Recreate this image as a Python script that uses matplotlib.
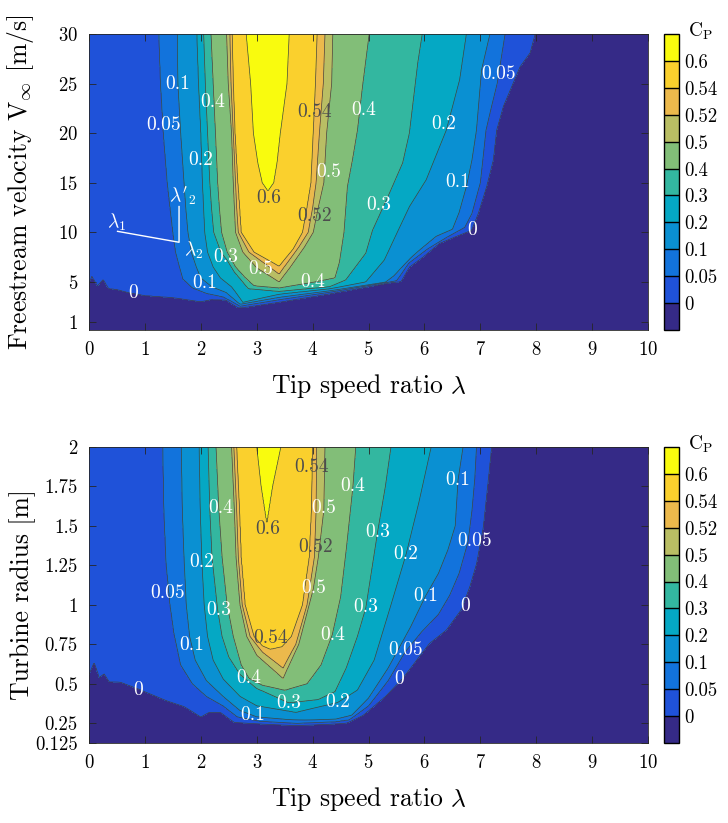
import numpy as np
import matplotlib
matplotlib.use('Agg')
import matplotlib.pyplot as plt

plt.rcParams['font.family'] = 'serif'
plt.rcParams['font.serif'] = ['cmr10']
plt.rcParams['mathtext.fontset'] = 'cm'
plt.rcParams['axes.unicode_minus'] = False
plt.rcParams['axes.formatter.use_mathtext'] = True

# C_P contour levels and band colours (parula-like)
LEVELS = [0, 0.05, 0.1, 0.2, 0.3, 0.4, 0.5, 0.52, 0.54, 0.6]
BOUNDS = [-0.2] + LEVELS + [0.7]
BAND_COLORS = ['#352a87', '#1f52d9', '#1273dc', '#0a90d2', '#05a8c4', '#33b7a0',
               '#82be78', '#b9be64', '#ecb94c', '#fad02d', '#f9fb0e']

# ---- top panel: C_P contours over tip speed ratio and freestream velocity
# one polyline per level (same order as LEVELS)
speed_lam = [
    [0, 0.05, 0.15, 0.25, 0.35, 0.5, 0.7, 1.0, 1.5, 2.0, 2.2, 2.45, 2.68, 3.4, 4.29, 5.37,
     5.58, 5.73, 5.97, 6.27, 6.57, 6.84, 6.96, 7.11, 7.23, 7.29, 7.41, 7.56, 7.71, 7.89, 7.98],
    [1.25, 1.28, 1.33, 1.40, 1.45, 1.50, 1.55, 1.62, 1.68, 1.85, 2.1, 2.4, 2.7, 3.4, 4.3, 5.3,
     5.5, 5.55, 5.72, 6.05, 6.4, 6.72, 6.85, 7.0, 7.1, 7.2, 7.3, 7.44],
    [1.58, 1.59, 1.64, 1.70, 1.73, 1.77, 1.83, 1.92, 2.0, 2.2, 2.45, 2.7, 3.4, 4.3, 5.3,
     5.45, 5.75, 5.91, 6.21, 6.5, 6.62, 6.75, 6.85, 6.93, 7.02, 7.17],
    [1.93, 1.96, 2.0, 2.03, 2.05, 2.07, 2.12, 2.22, 2.35, 2.55, 2.75, 3.4, 4.3, 4.95, 5.28,
     5.52, 5.73, 6.03, 6.39, 6.63, 6.75],
    [2.05, 2.08, 2.12, 2.16, 2.19, 2.23, 2.36, 2.47, 2.6, 2.72, 2.85, 3.4, 4.3, 4.59, 4.95,
     5.07, 5.37, 5.61, 5.73, 5.88, 5.96],
    [2.18, 2.22, 2.26, 2.3, 2.33, 2.37, 2.47, 2.62, 2.78, 2.95, 3.4, 4.0, 4.4, 4.48, 4.56,
     4.62, 4.71, 4.80, 4.89, 5.01],
    [2.46, 2.49, 2.55, 2.58, 2.6, 2.62, 2.75, 3.0, 3.4, 3.6, 3.85, 4.01, 4.1, 4.2, 4.25,
     4.34, 4.36],
    [2.52, 2.54, 2.58, 2.62, 2.64, 2.67, 2.86, 3.4, 3.75, 3.92, 4.0, 4.06, 4.12, 4.19, 4.22],
    [2.56, 2.58, 2.61, 2.66, 2.69, 2.72, 2.95, 3.4, 3.65, 3.82, 3.9, 3.97, 4.01, 4.05, 4.08],
    [2.81, 2.89, 2.94, 3.02, 3.1, 3.2, 3.3, 3.36, 3.42, 3.54, 3.58],
]
speed_v = [
    [4.9, 5.5, 4.6, 5.2, 4.3, 4.2, 3.9, 3.6, 3.4, 3.0, 3.2, 3.15, 2.35, 2.96, 3.79, 4.9,
     5.05, 6.5, 7.5, 8.9, 9.6, 10.2, 11.9, 14.6, 17.3, 20.3, 22.7, 24.7, 26.7, 28.1, 30],
    [30, 25, 20, 15, 12.5, 10, 8, 6.5, 5.3, 4.4, 3.85, 3.5, 2.55, 3.2, 3.95, 4.92,
     5.12, 5.5, 6.9, 8.3, 9.5, 10.5, 11.9, 15, 20.3, 22.7, 25, 30],
    [30, 25, 20, 15, 12.5, 10, 8, 6.5, 5.4, 4.5, 3.95, 2.75, 3.45, 4.1, 4.97,
     5.6, 7.4, 8.2, 9.6, 10.3, 12, 14.6, 17.3, 20.3, 26.4, 30],
    [30, 25, 20, 15, 12.5, 10, 8, 6.5, 5.4, 4.5, 2.95, 3.75, 4.3, 5.0, 7.2,
     10.1, 12.6, 15.3, 20.3, 25.4, 30],
    [30, 25, 20, 15, 12.5, 10, 8, 7.2, 6.0, 5.2, 4.3, 4.05, 4.5, 5.2, 7.9,
     10.2, 13.9, 17, 20, 27.1, 30],
    [30, 25, 20, 15, 12.5, 10, 8, 6.5, 5.5, 4.6, 4.4, 4.95, 5.4, 7.0, 10,
     14.6, 17.3, 20.3, 24.7, 30],
    [30, 25, 20, 15, 12.5, 10, 8, 6.4, 5.0, 6.5, 8.5, 10, 12.5, 15, 20, 25, 30],
    [30, 25, 20, 15, 12.5, 10, 8, 5.8, 8.5, 10, 12.5, 15, 20, 25, 30],
    [30, 25, 20, 15, 12.5, 10, 8, 6.6, 8.3, 10, 12.5, 15, 20, 25, 30],
    [30, 25, 20, 17, 15, 14.2, 15, 17, 20, 25, 30],
]
speed_label_lam = [1.58, 2.22, 1.34, 2.0, 3.22, 4.03, 4.04, 4.29, 4.92, 5.18, 6.35, 6.6,
                   7.32, 6.85, 0.79, 2.07, 2.45, 3.07, 4.0]
speed_label_v = [25.0, 23.1, 20.8, 17.3, 13.5, 22.1, 11.6, 16.1, 22.3, 12.8, 20.9, 15.1,
                 26.0, 10.2, 3.9, 4.9, 7.55, 6.3, 5.0]
speed_label_cp = [0.1, 0.4, 0.05, 0.2, 0.6, 0.54, 0.52, 0.5, 0.4, 0.3, 0.2, 0.1,
                  0.05, 0, 0, 0.1, 0.3, 0.5, 0.4]

# operating-point marker lines (lambda_1 -> lambda_2 -> lambda'_2)
marker_lam = [0.51, 1.61, 1.61]
marker_v = [10.1, 9.0, 12.6]

# ---- bottom panel: C_P contours over tip speed ratio and turbine radius
radius_lam = [
    [0, 0.09, 0.18, 0.27, 0.36, 0.55, 0.85, 1.4, 1.7, 2.0, 2.16, 2.34, 2.6, 3.05, 3.7, 4.4,
     4.6, 4.9, 5.3, 5.6, 6.09, 6.39, 6.66, 6.81, 6.93, 7.05, 7.14, 7.2],
    [1.32, 1.34, 1.38, 1.45, 1.52, 1.64, 1.85, 2.1, 2.4, 2.65, 3.05, 3.7, 4.4, 4.65, 5.0,
     5.35, 5.65, 5.95, 6.25, 6.45, 6.62, 6.78, 6.85, 6.9, 6.93],
    [1.65, 1.67, 1.7, 1.74, 1.8, 1.9, 2.1, 2.4, 2.7, 3.0, 3.7, 4.4, 4.7, 5.0, 5.35, 5.75,
     6.02, 6.25, 6.42, 6.55, 6.6, 6.69],
    [1.97, 1.99, 2.02, 2.06, 2.12, 2.22, 2.4, 2.7, 3.0, 3.7, 4.44, 4.8, 5.1, 5.4, 5.67, 5.9, 6.12],
    [2.13, 2.16, 2.2, 2.3, 2.38, 2.5, 2.7, 3.0, 3.57, 4.1, 4.4, 4.6, 4.8, 4.95, 5.16, 5.3, 5.4],
    [2.27, 2.32, 2.38, 2.47, 2.58, 2.72, 2.86, 3.1, 3.5, 3.9, 4.15, 4.35, 4.5, 4.6, 4.72, 4.77],
    [2.55, 2.6, 2.63, 2.7, 2.82, 3.0, 3.47, 3.75, 4.01, 4.1, 4.2, 4.22],
    [2.59, 2.64, 2.67, 2.74, 2.88, 3.1, 3.47, 3.7, 3.9, 4.03, 4.06, 4.07],
    [2.64, 2.69, 2.72, 2.79, 2.95, 3.1, 3.24, 3.45, 3.62, 3.82, 3.94, 3.98, 4.0],
    [3.0, 3.08, 3.18, 3.28, 3.43],
]
radius_r = [
    [0.56, 0.63, 0.54, 0.56, 0.51, 0.51, 0.47, 0.39, 0.355, 0.29, 0.32, 0.32, 0.255, 0.245,
     0.235, 0.245, 0.25, 0.3, 0.42, 0.53, 0.756, 0.84, 0.97, 1.115, 1.26, 1.49, 1.79, 2.0],
    [2.0, 1.6, 1.26, 1.0, 0.82, 0.62, 0.5, 0.42, 0.36, 0.29, 0.262, 0.25, 0.258, 0.27, 0.36,
     0.52, 0.7, 0.83, 0.94, 1.06, 1.2, 1.4, 1.6, 1.8, 2.0],
    [2.0, 1.6, 1.3, 1.0, 0.8, 0.65, 0.52, 0.42, 0.33, 0.29, 0.27, 0.275, 0.3, 0.41, 0.6, 0.86,
     1.057, 1.2, 1.35, 1.5, 1.79, 2.0],
    [2.0, 1.6, 1.27, 1.0, 0.8, 0.65, 0.53, 0.42, 0.36, 0.32, 0.38, 0.46, 0.65, 1.0, 1.32, 1.65, 2.0],
    [2.0, 1.6, 1.3, 0.97, 0.8, 0.67, 0.56, 0.47, 0.38, 0.4, 0.45, 0.6, 0.8, 0.98, 1.46, 1.75, 2.0],
    [2.0, 1.61, 1.3, 1.0, 0.8, 0.62, 0.534, 0.49, 0.46, 0.5, 0.62, 0.81, 1.05, 1.35, 1.75, 2.0],
    [2.0, 1.6, 1.3, 1.0, 0.8, 0.68, 0.534, 0.75, 1.1, 1.3, 1.6, 2.0],
    [2.0, 1.6, 1.3, 1.0, 0.8, 0.7, 0.6, 0.75, 1.0, 1.3, 1.6, 2.0],
    [2.0, 1.6, 1.3, 1.0, 0.8, 0.74, 0.72, 0.735, 0.8, 1.0, 1.3, 1.6, 2.0],
    [2.0, 1.75, 1.526, 1.75, 2.0],
]
radius_label_lam = [3.98, 2.36, 3.19, 4.2, 4.72, 4.05, 5.16, 2.02, 1.41, 2.32, 4.01, 3.24,
                    1.83, 4.35, 2.86, 0.88, 3.57, 4.44, 2.92, 6.6, 6.9, 4.95, 5.67, 6.02,
                    6.72, 5.66, 5.55]
radius_label_r = [1.874, 1.615, 1.48, 1.615, 1.754, 1.368, 1.459, 1.273, 1.072, 0.967, 1.104,
                  0.787, 0.745, 0.808, 0.534, 0.46, 0.376, 0.382, 0.302, 1.79, 1.406, 0.984,
                  1.321, 1.057, 0.994, 0.714, 0.53]
radius_label_cp = [0.54, 0.4, 0.6, 0.5, 0.4, 0.52, 0.3, 0.2, 0.05, 0.3, 0.5, 0.54,
                   0.1, 0.4, 0.4, 0, 0.3, 0.2, 0.1, 0.1, 0.05, 0.3,
                   0.2, 0.1, 0, 0.05, 0]


def cp_field(lam, ys, lines_x, lines_y):
    """Rebuild a C_P grid whose level sets follow the given contour polylines."""
    mids = [(a + b) / 2 for a, b in zip(BOUNDS[:-1], BOUNDS[1:])]
    z = np.empty((len(ys), len(lam)))
    for i, y in enumerate(ys):
        hits = []
        state = []
        for k, (lx, ly) in enumerate(zip(lines_x, lines_y)):
            # a line starting on the left edge encloses the edge above its start
            state.append(lx[0] == 0 and y > ly[0])
            for j in range(len(lx) - 1):
                y0, y1 = ly[j], ly[j + 1]
                if min(y0, y1) <= y < max(y0, y1):
                    t = (y - y0) / (y1 - y0)
                    hits.append((lx[j] + t * (lx[j + 1] - lx[j]), k))
        hits.sort()
        kx, kz = [0.0], [mids[sum(state)]]
        prev = 0.0
        for x, k in hits:
            if x - prev > 1e-9:
                kx.append((prev + x) / 2)
                kz.append(mids[sum(state)])
            kx.append(x)
            kz.append(LEVELS[k])
            state[k] = not state[k]
            prev = x
        kx += [(prev + 10) / 2, 10.0]
        kz += [mids[sum(state)], mids[sum(state)]]
        z[i] = np.interp(lam, kx, kz)
    return z


def fmt(v):
    return '%g' % v


def draw_panel(ax, cax, lines_x, lines_y, y_lo, y_hi, lab_x, lab_y, lab_cp):
    lam = np.linspace(0, 10, 1001)
    ys = np.linspace(y_lo, y_hi - 1e-4 * (y_hi - y_lo), 520)
    z = cp_field(lam, ys, lines_x, lines_y)
    cf = ax.contourf(lam, ys, z, levels=BOUNDS, colors=BAND_COLORS)
    ax.contour(lam, ys, z, levels=LEVELS, colors='0.25', linewidths=0.5)
    for x, y, c in zip(lab_x, lab_y, lab_cp):
        col = '0.3' if c >= 0.52 else 'white'
        ax.text(x, y, fmt(c), color=col, fontsize=14, ha='center', va='center')
    ax.set_xlim(0, 10)
    ax.set_ylim(y_lo, y_hi)
    ax.set_xticks(range(11))
    ax.set_xlabel(r'Tip speed ratio $\lambda$', fontsize=18.5, labelpad=9)
    ax.tick_params(direction='in', top=True, right=True, length=5, width=0.6,
                   color='0.15', labelsize=13.5, pad=8)
    for s in ax.spines.values():
        s.set_linewidth(0.6)
        s.set_color('0.15')

    cb = plt.colorbar(cf, cax=cax, ticks=LEVELS, drawedges=True)
    cb.ax.set_yticklabels([fmt(v) for v in LEVELS])
    cb.ax.tick_params(length=0, labelsize=13.5, pad=4)
    cb.outline.set_linewidth(1.0)
    cb.dividers.set_linewidth(1.0)
    cax.text(1.6, 1.01, r'$\mathrm{C_P}$', transform=cax.transAxes,
             ha='left', va='center', fontsize=14)
    return cf


fig = plt.figure(figsize=(7.28, 8.23), dpi=100)
ax1 = fig.add_axes([0.1223, 0.599, 0.768, 0.3597])
cax1 = fig.add_axes([0.912, 0.599, 0.0206, 0.3597])
ax2 = fig.add_axes([0.1223, 0.0972, 0.768, 0.3597])
cax2 = fig.add_axes([0.912, 0.0972, 0.0206, 0.3597])

draw_panel(ax1, cax1, speed_lam, speed_v, 0.15, 30,
           speed_label_lam, speed_label_v, speed_label_cp)
ax1.set_yticks([1, 5, 10, 15, 20, 25, 30])
ax1.set_ylabel(r'Freestream velocity $\mathrm{V}_\infty$ [m/s]', fontsize=18.5)
ax1.yaxis.set_label_coords(-0.094, 0.5)
ax1.plot(marker_lam, marker_v, color='white', lw=1.0)
ax1.text(0.5, 11.0, r'$\lambda_1$', color='white', fontsize=14, ha='center', va='center')
ax1.text(1.68, 13.6, r"$\lambda'_2$", color='white', fontsize=14, ha='center', va='center')
ax1.text(1.87, 8.2, r'$\lambda_2$', color='white', fontsize=14, ha='center', va='center')

draw_panel(ax2, cax2, radius_lam, radius_r, 0.125, 2,
           radius_label_lam, radius_label_r, radius_label_cp)
r_ticks = [0.125, 0.25, 0.5, 0.75, 1, 1.25, 1.5, 1.75, 2]
ax2.set_yticks(r_ticks)
ax2.set_yticklabels([fmt(v) for v in r_ticks])
ax2.set_ylabel('Turbine radius [m]', fontsize=18.5)
ax2.yaxis.set_label_coords(-0.094, 0.5)

fig.savefig('out.png', dpi=100)
